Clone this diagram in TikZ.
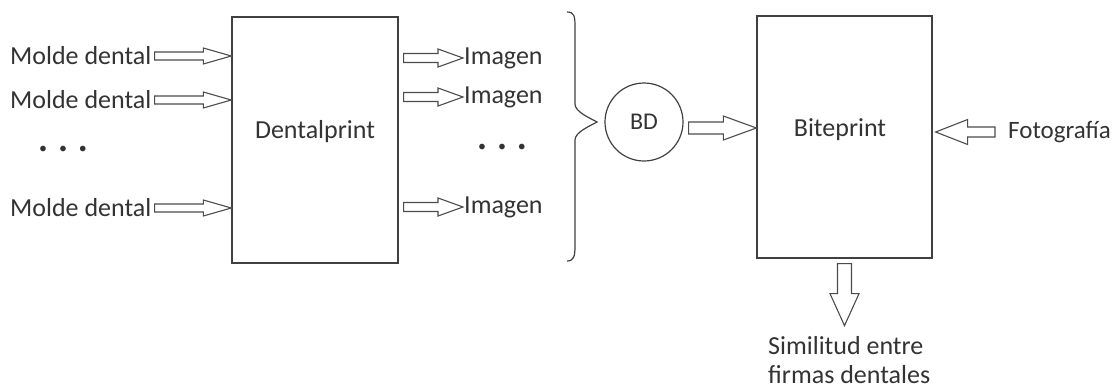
\documentclass[tikz,border=0pt]{standalone}
\usepackage{fontspec}
\setmainfont{Carlito}
\usetikzlibrary{calc}
\tikzset{
  x=1pt, y=-1pt,
  lbl/.style={inner sep=0pt, text=black!80, font=\fontsize{26}{29}\selectfont},
  bigbox/.style={draw=black!75, line width=1.3pt, inner sep=0pt},
  arrowline/.style={draw=black!70, line width=1.1pt, fill=white, line join=miter},
  bracestyle/.style={draw=black!75, line width=1.2pt},
}
\newcommand\blockarrow[5]{%
  \coordinate (ban) at ($(#2)!#5!(#1)$);
  \draw[arrowline] ($(#1)!#3!90:(#2)$) -- ($(ban)!#3!-90:(#1)$) -- ($(ban)!#4!-90:(#1)$) -- (#2)
    -- ($(ban)!#4!90:(#1)$) -- ($(ban)!#3!90:(#1)$) -- ($(#1)!#3!-90:(#2)$) -- cycle;
}
\begin{document}
\begin{tikzpicture}
\useasboundingbox (0,0) rectangle (1119,389);
% boxes
\node[bigbox, minimum width=166pt, minimum height=246pt] (dp) at (315,140) {};
\node[lbl] (dptext) at (315,132) {Dentalprint};
\node[bigbox, minimum width=175pt, minimum height=242pt] (bp) at (844.5,137) {};
\node[lbl] (bptext) at (840,130) {Biteprint};
% inputs
\node[lbl, anchor=west] (m1) at (10,56) {Molde dental};
\node[lbl, anchor=west] (m2) at (10,100) {Molde dental};
\node[lbl, anchor=west] (m3) at (10,208) {Molde dental};
\node[lbl] (dots1) at (63,150) {\fontsize{16}{16}\selectfont •\hspace{12pt}•\hspace{12pt}•};
\foreach \i in {1,2,3}{
  \coordinate (mt\i) at ($(m\i.east)+(3,0)$);
  \coordinate (mh\i) at (m\i.east -| dp.west);
  \blockarrow{mt\i}{mh\i}{4pt}{8pt}{28pt}
}
% outputs
\node[lbl, anchor=west] (i1) at (464,58) {Imagen};
\node[lbl, anchor=west] (i2) at (464,97) {Imagen};
\node[lbl, anchor=west] (i3) at (464,207) {Imagen};
\node[lbl] (dots2) at (502,148) {\fontsize{16}{16}\selectfont •\hspace{12pt}•\hspace{12pt}•};
\foreach \i in {1,2,3}{
  \coordinate (it\i) at ($(dp.east |- i\i.west)+(5,0)$);
  \coordinate (ih\i) at ($(i\i.west)+(-1,0)$);
  \blockarrow{it\i}{ih\i}{4.5pt}{9pt}{25pt}
}
% brace
\draw[bracestyle] (567,12) .. controls (574,12) and (575,16) .. (575,26) -- (575,104)
  .. controls (575,112) and (590,118) .. (597,122)
  .. controls (590,126) and (575,132) .. (575,140) -- (575,246)
  .. controls (575,256) and (574,261) .. (567,261);
% BD
\node[circle, draw=black!75, line width=1.2pt, minimum size=78pt, inner sep=0pt, text=black!80, font=\fontsize{24}{28}\selectfont] (bd) at (644,122) {BD};
\coordinate (bdt) at ($(bd.east)+(5,6)$);
\coordinate (bdh) at (bdt -| bp.west);
\blockarrow{bdt}{bdh}{6pt}{12pt}{33pt}
% Fotografia
\node[lbl, anchor=west, font=\fontsize{25}{29}\selectfont] (foto) at (1008,132) {Fotografía};
\coordinate (ft) at ($(foto.west)+(-13,0)$);
\coordinate (fh) at ($(foto.west -| bp.east)+(3,0)$);
\blockarrow{ft}{fh}{5pt}{12.5pt}{32pt}
% output
\node[lbl, anchor=north west, align=left] (sim) at (768,336) {Similitud entre\\firmas dentales};
\coordinate (st) at ($(bp.south)+(0,5)$);
\coordinate (sh) at ($(bp.south)+(0,67)$);
\blockarrow{st}{sh}{7pt}{14.5pt}{32pt}
\end{tikzpicture}
\end{document}
